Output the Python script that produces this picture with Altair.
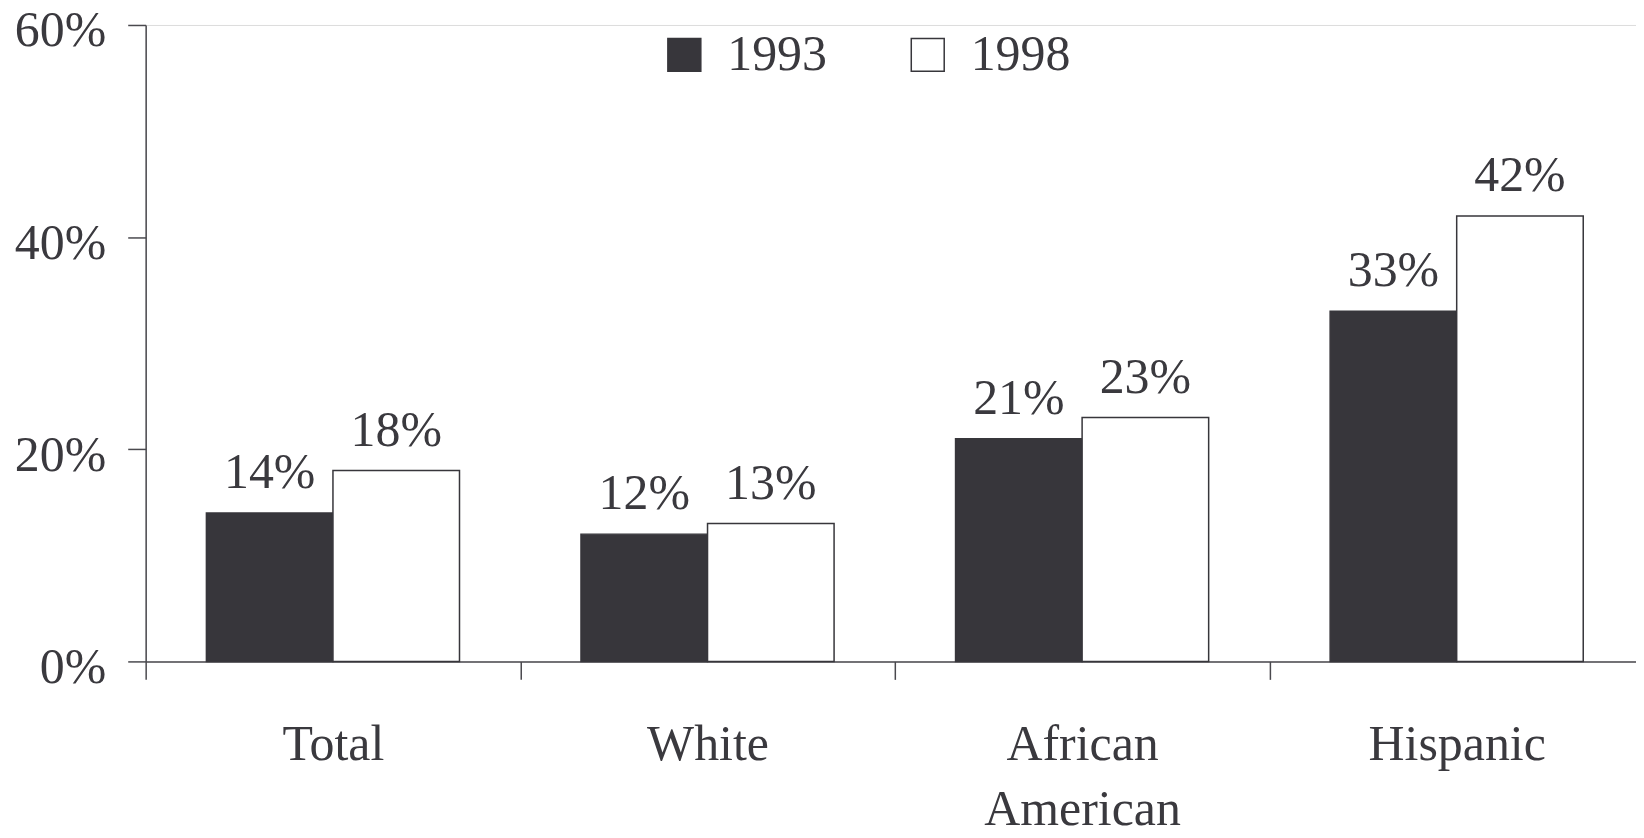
import altair as alt
import pandas as pd

categories = ["Total", "White", "African American", "Hispanic"]
years = ["1993", "1998"]
values_1993 = [14, 12, 21, 33]
values_1998 = [18, 13, 23, 42]

rows = []
for c, a, b in zip(categories, values_1993, values_1998):
    rows.append({"group": c, "year": "1993", "value": a})
    rows.append({"group": c, "year": "1998", "value": b})
df = pd.DataFrame(rows)

FONT = "Liberation Serif"
FS = 50
TXT = "#3a393e"
DARK = "#37363b"
LINE = "#4a494e"

x_enc = alt.X(
    "group:N",
    sort=categories,
    scale=alt.Scale(paddingInner=0, paddingOuter=0),
    axis=alt.Axis(
        title=None,
        labelAngle=0,
        tickBand="extent",
        tickSize=18,
        labelPadding=40,
        labelFontSize=FS,
        labelFont=FONT,
        labelColor=TXT,
        labelLineHeight=66,
        labelLimit=0,
        labelExpr="split(datum.label, ' ')",
        domainColor=LINE,
        tickColor=LINE,
        domainWidth=1.5,
        tickWidth=1.5,
    ),
)
xo_enc = alt.XOffset("year:N", scale=alt.Scale(paddingOuter=0.48, paddingInner=0))
y_enc = alt.Y(
    "value:Q",
    scale=alt.Scale(domain=[0, 60], nice=False),
    axis=alt.Axis(
        title=None,
        values=[0, 20, 40, 60],
        labelExpr="datum.value + '%'",
        tickSize=18,
        labelPadding=22,
        labelFontSize=FS,
        labelFont=FONT,
        labelColor=TXT,
        labelBaseline="alphabetic",
        labelOffset=21,
        grid=False,
        domainColor=LINE,
        tickColor=LINE,
        domainWidth=1.5,
        tickWidth=1.5,
    ),
)

bars = alt.Chart(df).mark_bar(stroke=DARK, strokeWidth=1.5).encode(
    x=x_enc,
    xOffset=xo_enc,
    y=y_enc,
    fill=alt.Fill(
        "year:N",
        scale=alt.Scale(domain=years, range=[DARK, "#ffffff"]),
        legend=alt.Legend(
            orient="none",
            legendX=515,
            legendY=5,
            direction="horizontal",
            title=None,
            symbolType="square",
            symbolSize=1090,
            symbolStrokeColor=DARK,
            symbolStrokeWidth=1.5,
            labelFontSize=FS,
            labelFont=FONT,
            labelColor=TXT,
            labelOffset=18,
            columnPadding=76,
            padding=0,
        ),
    ),
)

labels = alt.Chart(df).transform_calculate(
    label="datum.value + '%'"
).mark_text(
    font=FONT, fontSize=FS, color=TXT, dy=-25, baseline="alphabetic"
).encode(
    x=alt.X("group:N", sort=categories),
    xOffset=alt.XOffset("year:N"),
    y=alt.Y("value:Q"),
    text="label:N",
)

chart = alt.layer(bars, labels).properties(
    width=1502,
    height=638,
    autosize=alt.AutoSizeParams(type="none"),
    padding={"left": 138, "top": 16, "right": -8, "bottom": 175},
).configure_view(stroke=None).configure(background="white")

chart.save("out.html", embed_options={"renderer": "svg", "actions": False})
